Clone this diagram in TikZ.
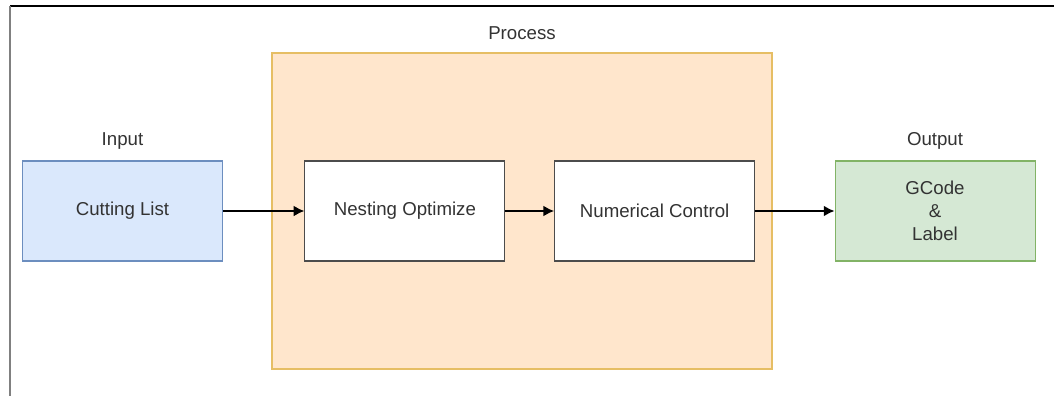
\documentclass[tikz,border=0pt]{standalone}
\usepackage{fontspec}
\setmainfont{Liberation Sans}
\usetikzlibrary{shapes,arrows.meta,positioning}
\definecolor{inputfill}{HTML}{DAE8FC}
\definecolor{inputdraw}{HTML}{6C8EBF}
\definecolor{outputfill}{HTML}{D5E8D4}
\definecolor{outputdraw}{HTML}{82B366}
\definecolor{procfill}{HTML}{FFE6CC}
\definecolor{procdraw}{HTML}{E6BE64}
\definecolor{textgray}{HTML}{333333}
\tikzstyle{block} =
        [
                rectangle,
                draw = black!70,
                thick,
                fill = white,
                text = textgray,
                text centered,
                align = center,
                minimum width = 150pt,
                minimum height = 75pt,
                font = \fontsize{14pt}{17.25pt}\selectfont
        ]
\tikzstyle{caption} =
        [
                text = textgray,
                font = \fontsize{14pt}{17.25pt}\selectfont
        ]
\tikzstyle{line} =
        [
                line width = 1.1pt,
                draw = black,
                -{Latex[length=8pt,width=8pt]}
        ]

\begin{document}
\begin{tikzpicture}
    \useasboundingbox [fill = white] (0,0) rectangle (790.5pt,-297pt);
    \draw [black, thick] (7.5pt,-4.5pt) -- (790.5pt,-4.5pt);
    \draw [gray, line width = 1.2pt] (7.5pt,-4.5pt) -- (7.5pt,-297pt);
    % process frame
    \node [rectangle, draw = procdraw, line width = 1.2pt, fill = procfill, minimum width = 375pt, minimum height = 237pt] (process) at (391.5pt,-158.25pt) {};
    \node [caption, above = 6pt of process] (process-title) {Process};
    % blocks
    \node [block, fill = inputfill, draw = inputdraw] (input) at (91.875pt,-158.25pt) {Cutting List};
    \node [block, right = 61pt of input] (nesting) {Nesting Optimize};
    \node [block, right = 36.5pt of nesting] (numerical) {Numerical Control};
    \node [block, fill = outputfill, draw = outputdraw, right = 59.5pt of numerical] (output) {GCode\\\&\\Label};
    \node [caption, above = 4.5pt of input] (input-title) {Input};
    \node [caption, above = 4.5pt of output] (output-title) {Output};
     \path [line] (input) -- (nesting);
     \path [line] (nesting) -- (numerical);
     \path [line] (numerical) -- (output);
\end{tikzpicture}
\end{document}
